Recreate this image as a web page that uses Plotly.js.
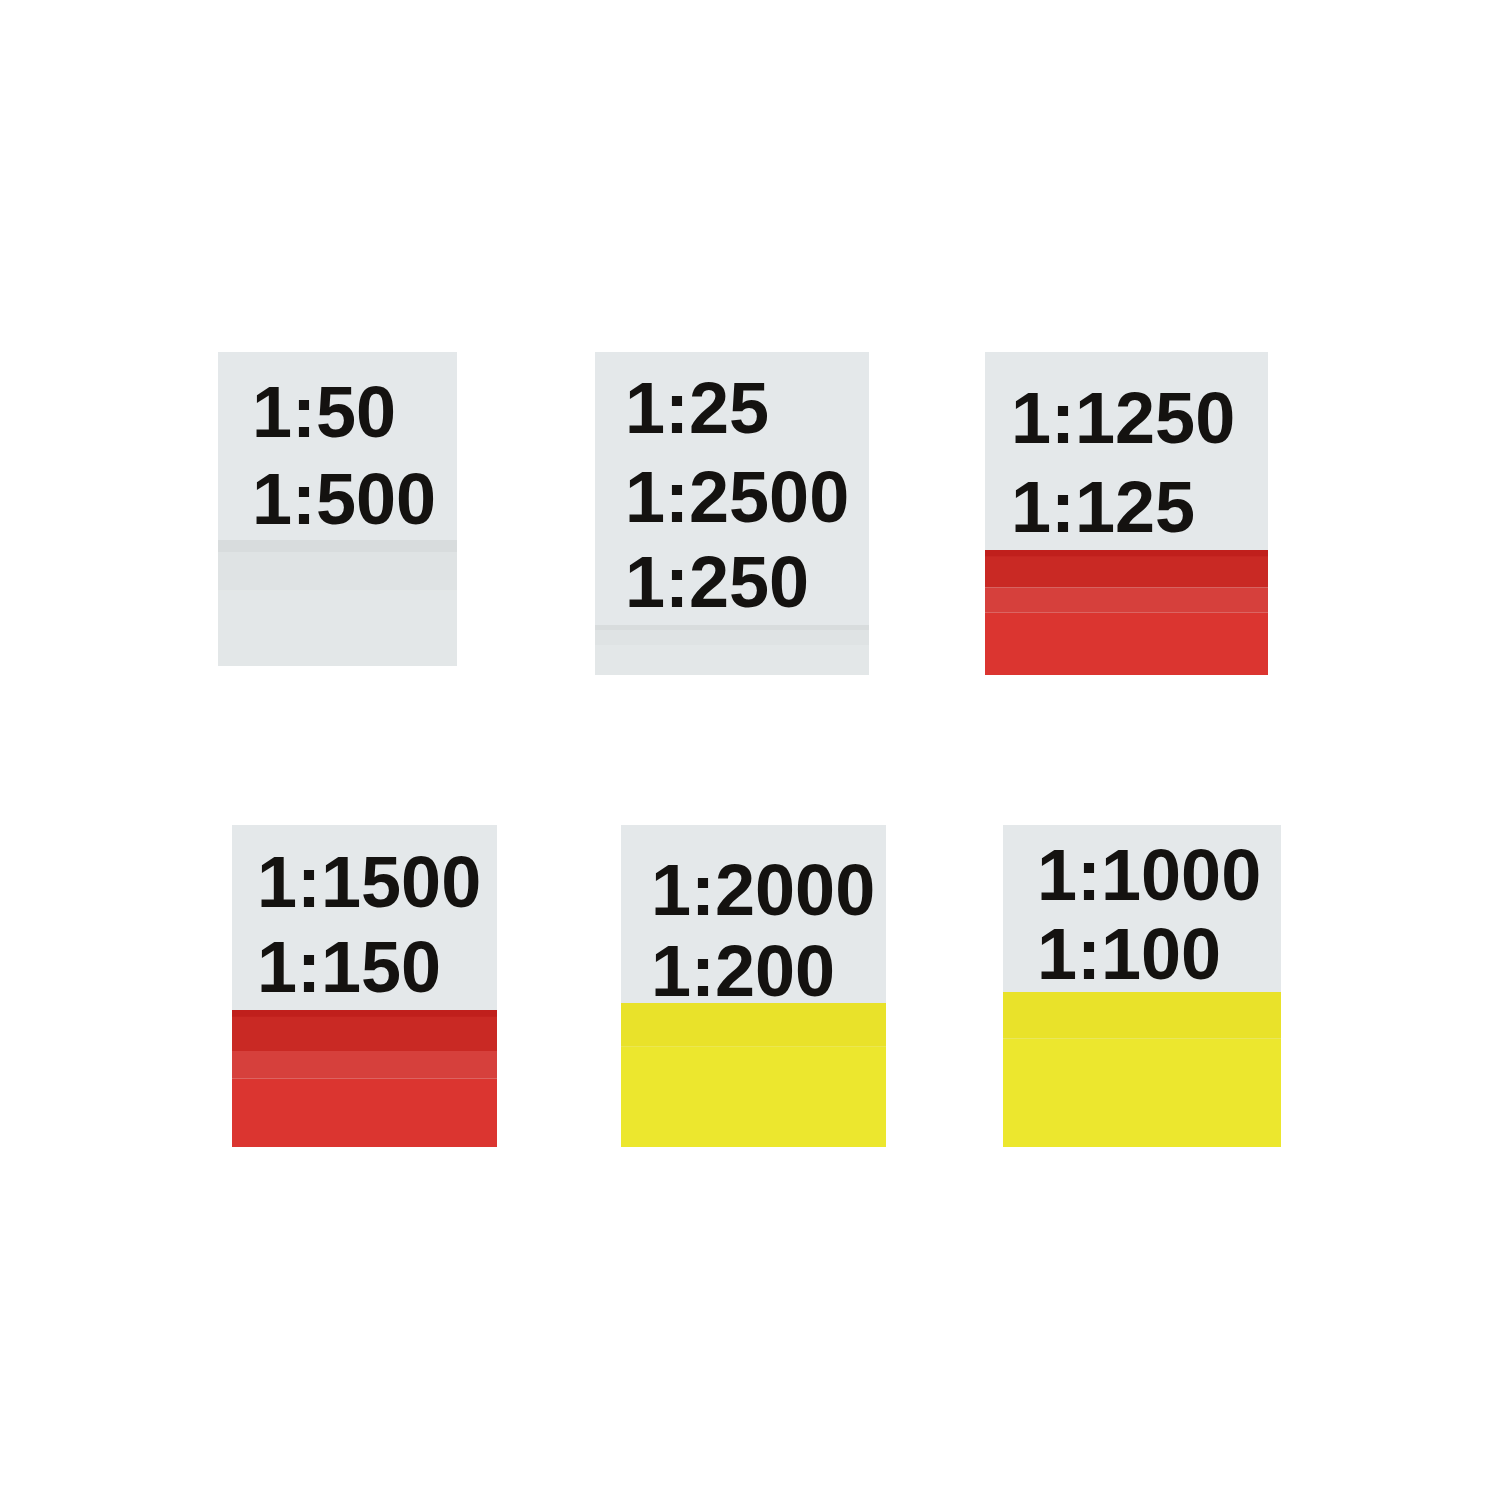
<!DOCTYPE html>
<html>
<head>
<meta charset="utf-8">
<script src="https://cdn.plot.ly/plotly-3.0.1.min.js"></script>
<style>html,body{margin:0;padding:0;background:#fff;}#chart{width:1500px;height:1500px;}</style>
</head>
<body>
<div id="chart"></div>
<script>
// ---- data ----
const tileNames = ["A", "B", "C", "D", "E", "F"];
const scaleLabels1 = ["1:50", "1:25", "1:1250", "1:1500", "1:2000", "1:1000"];
const scaleLabels2 = ["1:500", "1:2500", "1:125", "1:150", "1:200", "1:100"];
const scaleLabels3 = ["", "1:250", "", "", "", ""];
const bandType = ["grey", "grey", "red", "red", "yellow", "yellow"];

// ---- layout (positions / sizes, pixel space) ----
const boxes = [
  {x0: 218, x1: 457, y0: 352, y1: 666, band: 540, tx: 251, ty: [412, 499]},
  {x0: 595, x1: 869, y0: 352, y1: 675, band: 625, tx: 624, ty: [408, 497, 582]},
  {x0: 985, x1: 1268, y0: 352, y1: 675, band: 550, tx: 1010, ty: [418, 507]},
  {x0: 232, x1: 497, y0: 825, y1: 1147, band: 1010, tx: 256, ty: [882, 967]},
  {x0: 621, x1: 886, y0: 825, y1: 1147, band: 1003, tx: 650, ty: [890, 971]},
  {x0: 1003, x1: 1281, y0: 825, y1: 1147, band: 992, tx: 1036, ty: [875, 954]}
];
// band stripe styles: [fraction start, fraction end, colour]
const bandStyles = {
  grey: [[0, 0.1, "#d8dcdd"], [0.1, 0.4, "#dfe3e4"], [0.4, 1, "#e3e7e8"]],
  red: [[0, 0.3, "#c92924"], [0, 0.05, "#c01f1c"], [0.3, 0.5, "#d6403c"], [0.5, 1, "#db3530"]],
  yellow: [[0, 0.3, "#e9e22a"], [0.3, 1, "#ece72e"]]
};
const tileColor = "#e4e8ea";

const shapes = [];
const annotations = [];
tileNames.forEach((name, i) => {
  const b = boxes[i];
  shapes.push({type: "rect", xref: "x", yref: "y", x0: b.x0, x1: b.x1, y0: b.y0, y1: b.y1,
    fillcolor: tileColor, line: {width: 0}, layer: "below"});
  const bh = b.y1 - b.band;
  bandStyles[bandType[i]].forEach(s => {
    shapes.push({type: "rect", xref: "x", yref: "y", x0: b.x0, x1: b.x1,
      y0: b.band + s[0] * bh, y1: b.band + s[1] * bh,
      fillcolor: s[2], line: {width: 0}, layer: "below"});
  });
  const labels = [scaleLabels1[i], scaleLabels2[i], scaleLabels3[i]];
  labels.forEach((t, k) => {
    if (!t) return;
    annotations.push({x: b.tx, y: b.ty[k], xref: "x", yref: "y", text: "<b>" + t + "</b>", showarrow: false,
      xanchor: "left", yanchor: "middle", borderpad: 0,
      font: {family: "Liberation Sans, Arial, sans-serif", size: 72, color: "#141210"}});
  });
});

const layout = {
  width: 1500, height: 1500,
  margin: {l: 0, r: 0, t: 0, b: 0},
  paper_bgcolor: "#ffffff", plot_bgcolor: "#ffffff",
  xaxis: {range: [0, 1500], visible: false, fixedrange: true},
  yaxis: {range: [1500, 0], visible: false, fixedrange: true},
  shapes: shapes,
  annotations: annotations,
  showlegend: false
};

Plotly.newPlot("chart", [], layout, {displayModeBar: false, staticPlot: true});
</script>
</body>
</html>
